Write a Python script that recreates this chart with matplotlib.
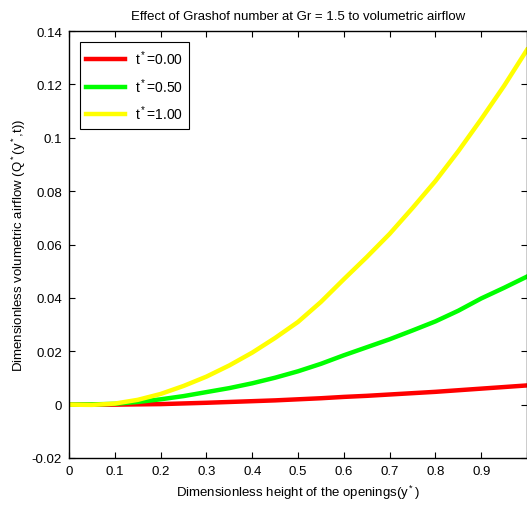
import numpy as np
import matplotlib.pyplot as plt

plt.rcParams['font.family'] = 'Liberation Sans'
plt.rcParams['mathtext.fontset'] = 'custom'
plt.rcParams['mathtext.rm'] = 'Liberation Sans'
plt.rcParams['mathtext.it'] = 'Liberation Sans'

# height of the openings y*
y_star = [0.0, 0.05, 0.1, 0.15, 0.2, 0.25, 0.3, 0.35, 0.4, 0.45, 0.5,
          0.55, 0.6, 0.65, 0.7, 0.75, 0.8, 0.85, 0.9, 0.95, 1.0]
# volumetric airflow for each time level
q_t000 = [0.0, 0.0, 0.0, 0.0001, 0.0002, 0.00045, 0.0007, 0.001, 0.0013, 0.0016, 0.002,
          0.0024, 0.0029, 0.0033, 0.0038, 0.0043, 0.0048, 0.0054, 0.006, 0.0066, 0.0072]
q_t050 = [0.0, 0.0001, 0.0003, 0.001, 0.002, 0.0032, 0.0047, 0.0062, 0.008, 0.0101, 0.0125,
          0.0153, 0.0185, 0.0215, 0.0245, 0.0278, 0.0312, 0.0352, 0.0398, 0.0438, 0.048]
q_t100 = [0.0, -0.0001, 0.0004, 0.0018, 0.004, 0.007, 0.0105, 0.0147, 0.0195, 0.025, 0.031,
          0.0385, 0.047, 0.0553, 0.064, 0.0737, 0.0838, 0.095, 0.107, 0.1195, 0.133]
labels = ['t$^*$=0.00', 't$^*$=0.50', 't$^*$=1.00']
colors = ['#ff0000', '#00ff00', '#ffff00']

xticks = [0, 0.1, 0.2, 0.3, 0.4, 0.5, 0.6, 0.7, 0.8, 0.9, 1]
xticklabels = ['0', '0.1', '0.2', '0.3', '0.4', '0.5', '0.6', '0.7', '0.8', '0.9', '']
yticks = [-0.02, 0, 0.02, 0.04, 0.06, 0.08, 0.1, 0.12, 0.14]
yticklabels = ['-0.02', '0', '0.02', '0.04', '0.06', '0.08', '0.1', '0.12', '0.14']

fig = plt.figure(figsize=(5.27, 5.10), dpi=100)
ax = fig.add_axes([0.131, 0.1, 0.869, 0.837])

for q, lab, c in zip([q_t000, q_t050, q_t100], labels, colors):
    ax.plot(y_star, q, color=c, lw=3.2, label=lab)

ax.set_xlim(0, 1)
ax.set_ylim(-0.02, 0.14)
ax.set_xticks(xticks)
ax.set_xticklabels(xticklabels)
ax.set_yticks(yticks)
ax.set_yticklabels(yticklabels)
ax.tick_params(direction='in', top=True, right=True, length=4, width=0.8,
               labelsize=9.5, pad=5)
for s in ax.spines.values():
    s.set_linewidth(1.0)

ax.set_title('Effect of Grashof number at Gr = 1.5 to volumetric airflow',
             fontsize=9.5, pad=9)
ax.set_xlabel('Dimensionless height of the openings(y$^*$)', fontsize=9.5, labelpad=4)
ax.set_ylabel('Dimensionless volumetric airflow (Q$^*$(y$^*$,t))', fontsize=9.5, labelpad=3)

leg = ax.legend(loc='upper left', fontsize=10, fancybox=False, framealpha=1,
                edgecolor='black', handlelength=2.8, handletextpad=0.7,
                borderpad=0.45, labelspacing=0.65, borderaxespad=0.8)
leg.get_frame().set_linewidth(0.8)

fig.savefig('out.png', dpi=100)
